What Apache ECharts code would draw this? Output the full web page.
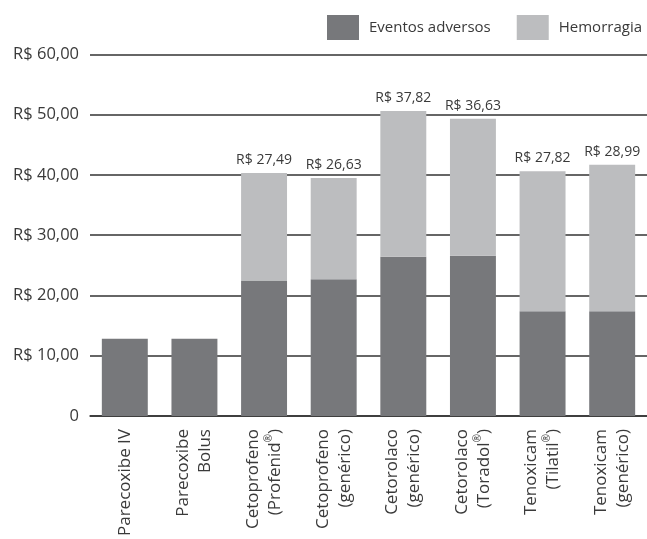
<!DOCTYPE html>
<html>
<head>
<meta charset="utf-8">
<script src="https://cdn.jsdelivr.net/npm/echarts@6/dist/echarts.min.js"></script>
<style>
html,body{margin:0;padding:0;background:#fff;}
#chart{width:647px;height:539px;}
</style>
</head>
<body>
<div id="chart"></div>
<script>
const categories = [
  'Parecoxibe IV',
  'Parecoxibe\nBolus',
  'Cetoprofeno\n(Profenid®)',
  'Cetoprofeno\n(genérico)',
  'Cetorolaco\n(genérico)',
  'Cetorolaco\n(Toradol®)',
  'Tenoxicam\n(Tilatil®)',
  'Tenoxicam\n(genérico)'
];
const eventosAdversos = [12.8, 12.8, 22.5, 22.7, 26.4, 26.6, 17.4, 17.4];
const hemorragia = [0, 0, 17.8, 16.8, 24.2, 22.7, 23.2, 24.3];
const totalLabels = ['', '', 'R$ 27,49', 'R$ 26,63', 'R$ 37,82', 'R$ 36,63', 'R$ 27,82', 'R$ 28,99'];
const yTickLabels = ['0', 'R$ 10,00', 'R$ 20,00', 'R$ 30,00', 'R$ 40,00', 'R$ 50,00', 'R$ 60,00'];

const FONT = '"Open Sans", "Noto Sans", sans-serif';
const TEXT = '#3a3a3a';

const chart = echarts.init(document.getElementById('chart'), null, {renderer: 'canvas'});
chart.setOption({
  animation: false,
  textStyle: {fontFamily: FONT},
  legend: {
    top: 10,
    left: 322,
    itemWidth: 32,
    itemHeight: 25,
    itemGap: 26,
    icon: 'rect',
    textStyle: {fontFamily: FONT, fontSize: 15, color: TEXT, padding: [0, 0, 0, 5]},
    data: ['Eventos adversos', 'Hemorragia']
  },
  grid: {left: 90, right: 0, top: 54.3, bottom: 121.7, containLabel: false},
  xAxis: {
    type: 'category',
    data: categories,
    axisLine: {show: true, lineStyle: {color: '#333', width: 1.5}},
    axisTick: {show: false},
    axisLabel: {
      interval: 0,
      rotate: 90,
      margin: 13,
      fontFamily: FONT,
      fontSize: 17,
      lineHeight: 22,
      color: TEXT,
      formatter: function (v) { return v.replace(/®/g, '{r|®}'); },
      rich: {
        r: {fontFamily: FONT, fontSize: 10, lineHeight: 22, color: TEXT, verticalAlign: 'top', padding: [0, 0, 6, 0]}
      }
    }
  },
  yAxis: {
    type: 'value',
    min: 0,
    max: 60,
    interval: 10,
    axisLine: {show: false},
    axisTick: {show: false},
    splitLine: {show: true, lineStyle: {color: '#333', width: 1.5}},
    axisLabel: {
      margin: 11,
      fontFamily: FONT,
      fontSize: 16.5,
      color: TEXT,
      formatter: function (v) { return yTickLabels[Math.round(v / 10)]; }
    }
  },
  series: [
    {
      name: 'Eventos adversos',
      type: 'bar',
      stack: 'total',
      barWidth: '66%',
      itemStyle: {color: '#77787b'},
      data: eventosAdversos
    },
    {
      name: 'Hemorragia',
      type: 'bar',
      stack: 'total',
      barWidth: '66%',
      itemStyle: {color: '#bcbdbf'},
      label: {
        show: true,
        position: 'top',
        distance: 6,
        fontFamily: FONT,
        fontSize: 14,
        color: TEXT,
        formatter: function (p) { return totalLabels[p.dataIndex]; }
      },
      data: hemorragia
    }
  ]
});
</script>
</body>
</html>
